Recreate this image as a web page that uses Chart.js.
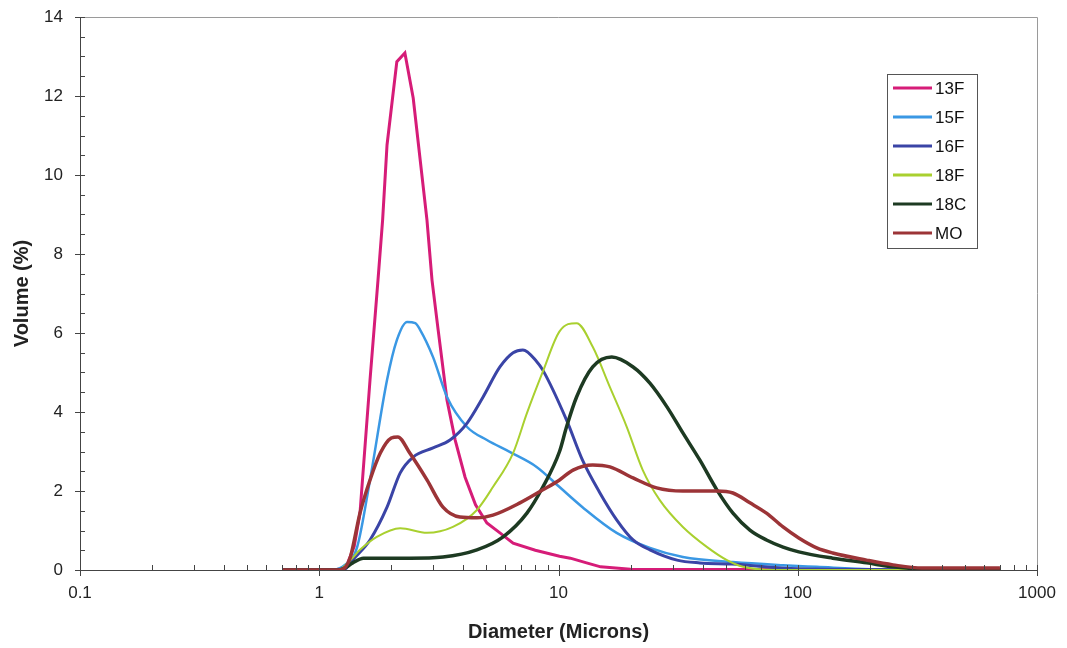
<!DOCTYPE html>
<html>
<head>
<meta charset="utf-8">
<script src="https://cdn.jsdelivr.net/npm/chart.js@4.4.1/dist/chart.umd.min.js"></script>
<style>
  html, body { margin: 0; padding: 0; background: #fff; }
  #wrap { width: 1067px; height: 648px; }
</style>
</head>
<body>
<div id="wrap"><canvas id="psd" width="1067" height="648"></canvas></div>
<script>
// Diamètres (µm) et volumes (%), une paire par série
const d13F = [0.7, 1.15, 1.29, 1.40, 1.48, 1.63, 1.76, 1.84, 1.92, 2.11, 2.28, 2.47, 2.82, 2.96, 3.14, 3.42, 3.7, 4.07, 4.5, 5.02, 5.69, 6.46, 8, 10.1, 11.2, 13.1, 15, 20, 700];
const v13F = [0, 0, 0.05, 0.6, 1.44, 4.81, 7.34, 8.86, 10.76, 12.87, 13.09, 11.95, 8.86, 7.34, 6.08, 4.3, 3.29, 2.35, 1.65, 1.19, 0.94, 0.68, 0.5, 0.35, 0.30, 0.18, 0.08, 0.02, 0];

const d15F = [0.7, 1.12, 1.28, 1.44, 1.63, 1.92, 2.11, 2.33, 2.52, 2.64, 2.99, 3.42, 4.15, 5.02, 6.25, 8.1, 10.1, 12.6, 17.5, 24.1, 33.1, 53.6, 86.8, 120, 200, 700];
const v15F = [0, 0, 0.13, 0.58, 2.28, 4.81, 5.82, 6.28, 6.25, 6.08, 5.39, 4.38, 3.62, 3.29, 2.99, 2.61, 2.10, 1.59, 0.94, 0.56, 0.33, 0.2, 0.12, 0.08, 0.02, 0];

const d16F = [0.7, 1.2, 1.3, 1.38, 1.63, 1.92, 2.18, 2.47, 2.99, 3.52, 4.15, 4.84, 5.69, 6.46, 7.1, 8.1, 8.6, 10.8, 12.6, 14.9, 17.5, 20.5, 24.1, 31.3, 39, 53, 100, 700];
const v16F = [0, 0, 0.05, 0.25, 0.76, 1.59, 2.46, 2.86, 3.09, 3.29, 3.72, 4.38, 5.14, 5.5, 5.57, 5.28, 5.06, 3.80, 2.78, 1.95, 1.27, 0.76, 0.51, 0.25, 0.18, 0.15, 0.03, 0];

const d18F = [0.7, 1.2, 1.35, 1.48, 1.74, 2.18, 2.82, 3.62, 4.56, 5.32, 6.46, 7.38, 8.6, 10.1, 11.9, 13.9, 16.4, 19.3, 22.5, 26.5, 33.1, 41.8, 50.6, 59, 80, 700];
const v18F = [0, 0, 0.25, 0.51, 0.84, 1.06, 0.94, 1.09, 1.52, 2.10, 2.96, 3.97, 5.02, 6.04, 6.25, 5.65, 4.63, 3.62, 2.53, 1.77, 1.09, 0.58, 0.25, 0.08, 0, 0];

const d18C = [0.7, 1.2, 1.28, 1.38, 1.53, 2.39, 3.29, 4.56, 5.87, 7.38, 8.6, 10.1, 10.8, 11.9, 13.9, 16.7, 20.5, 24.1, 28.4, 33.1, 39, 45.9, 53.6, 63.1, 74, 86.8, 101, 140, 194, 250, 350, 700];
const v18C = [0, 0, 0.05, 0.18, 0.30, 0.30, 0.33, 0.51, 0.84, 1.44, 2.10, 3.0, 3.62, 4.38, 5.14, 5.39, 5.14, 4.73, 4.13, 3.47, 2.78, 2.03, 1.44, 1.01, 0.76, 0.58, 0.46, 0.30, 0.18, 0.08, 0.02, 0];

const dMO = [0.7, 1.2, 1.29, 1.35, 1.48, 1.63, 1.80, 2.0, 2.13, 2.39, 2.82, 3.29, 3.87, 4.56, 5.32, 6.9, 8.6, 10.1, 11.5, 13.9, 16.4, 20.5, 25.7, 33.1, 45.9, 53.6, 63.1, 74, 86.8, 101, 120, 140, 194, 250, 330, 700];
const vMO = [0, 0, 0.08, 0.33, 1.44, 2.28, 2.96, 3.34, 3.37, 2.96, 2.28, 1.59, 1.34, 1.32, 1.39, 1.70, 2.03, 2.28, 2.53, 2.66, 2.61, 2.33, 2.08, 2.0, 2.0, 1.95, 1.70, 1.44, 1.09, 0.81, 0.56, 0.43, 0.25, 0.13, 0.05, 0.05];

const seriesNames = ['13F', '15F', '16F', '18F', '18C', 'MO'];
const xTickValues = [0.1, 1, 10, 100, 1000];
const yTickValues = [0, 2, 4, 6, 8, 10, 12, 14];

const FONT = '"Liberation Sans", Arial, sans-serif';

function pairs(xs, ys) {
    return xs.map((x, i) => ({ x: x, y: ys[i] }));
}

const seriesData = [pairs(d13F, v13F), pairs(d15F, v15F), pairs(d16F, v16F), pairs(d18F, v18F), pairs(d18C, v18C), pairs(dMO, vMO)];
const seriesColors = ['#d61c78', '#3a98e4', '#3a44a6', '#a9d02f', '#1d3a22', '#9c3437'];
const seriesWidths = [3, 2.5, 3, 2, 3.5, 3.5];

// Graduations mineures + cadre + légende
const decorPlugin = {
    id: 'decor',
    afterDatasetsDraw(chart) {
        const ctx = chart.ctx;
        const xs = chart.scales.x, ys = chart.scales.y;
        const a = chart.chartArea;
        ctx.save();
        // cadre haut / droite
        ctx.strokeStyle = '#9a9a9a';
        ctx.lineWidth = 1;
        ctx.beginPath();
        ctx.moveTo(a.left, a.top + 0.5);
        ctx.lineTo(a.right + 0.5, a.top + 0.5);
        ctx.lineTo(a.right + 0.5, a.bottom);
        ctx.stroke();

        ctx.strokeStyle = '#444';
        ctx.beginPath();
        // axe x : graduations log
        for (let e = -1; e < 3; e++) {
            for (let k = 1; k <= 9; k++) {
                const px = Math.round(xs.getPixelForValue(k * Math.pow(10, e))) + 0.5;
                if (k === 1) { ctx.moveTo(px, a.bottom - 5); ctx.lineTo(px, a.bottom + 6); }
                else { ctx.moveTo(px, a.bottom - 5); ctx.lineTo(px, a.bottom); }
            }
        }
        const pEnd = Math.round(xs.getPixelForValue(1000)) + 0.5;
        ctx.moveTo(pEnd, a.bottom - 5); ctx.lineTo(pEnd, a.bottom + 6);
        // axe y : pas de 0.5
        for (let v = 0; v <= 14; v += 0.5) {
            const py = Math.round(ys.getPixelForValue(v)) + 0.5;
            if (v % 2 === 0) { ctx.moveTo(a.left - 5, py); ctx.lineTo(a.left + 5, py); }
            else { ctx.moveTo(a.left, py); ctx.lineTo(a.left + 5, py); }
        }
        ctx.stroke();

        // légende
        const lx = 887, ly = 74, lw = 90, lh = 174;
        ctx.fillStyle = '#fff';
        ctx.fillRect(lx, ly, lw, lh);
        ctx.strokeStyle = '#555';
        ctx.strokeRect(lx + 0.5, ly + 0.5, lw, lh);
        ctx.font = '17px ' + FONT;
        ctx.textBaseline = 'middle';
        chart.data.datasets.forEach((ds, i) => {
            const cy = ly + 14 + i * 29;
            ctx.strokeStyle = ds.borderColor;
            ctx.lineWidth = 3;
            ctx.beginPath();
            ctx.moveTo(lx + 6, cy);
            ctx.lineTo(lx + 45, cy);
            ctx.stroke();
            ctx.fillStyle = '#111';
            ctx.fillText(ds.label, lx + 48, cy + 1);
        });
        ctx.restore();
    }
};

function createSizeChart() {
    const ctx = document.getElementById('psd').getContext('2d');
    new Chart(ctx, {
        type: 'line',
        data: {
            datasets: seriesNames.map((name, i) => ({
                label: name,
                data: seriesData[i],
                borderColor: seriesColors[i],
                backgroundColor: seriesColors[i],
                borderWidth: seriesWidths[i],
                pointRadius: 0,
                cubicInterpolationMode: i === 0 ? 'default' : 'monotone',
                tension: 0,
                fill: false,
                order: seriesNames.length - i
            }))
        },
        options: {
            responsive: false,
            animation: false,
            layout: { padding: { top: 17, right: 30, left: 0, bottom: 0 } },
            plugins: {
                legend: { display: false },
                tooltip: { enabled: false }
            },
            scales: {
                x: {
                    type: 'logarithmic',
                    min: 0.1,
                    max: 1000,
                    afterBuildTicks: (scale) => { scale.ticks = xTickValues.map(v => ({ value: v })); },
                    afterFit: (scale) => { scale.height = 78; scale.paddingLeft = 0; scale.paddingRight = 0; },
                    grid: { display: false, drawTicks: false },
                    border: { display: true, color: '#444', width: 1 },
                    ticks: {
                        padding: 13,
                        color: '#222',
                        font: { family: FONT, size: 17 },
                        maxRotation: 0,
                        autoSkip: false,
                        callback: (v) => String(v)
                    },
                    title: {
                        display: true,
                        text: 'Diameter (Microns)',
                        color: '#222',
                        font: { family: FONT, size: 20, weight: 'bold' },
                        padding: { top: 0, bottom: 4 }
                    }
                },
                y: {
                    min: 0,
                    max: 14,
                    afterBuildTicks: (scale) => { scale.ticks = yTickValues.map(v => ({ value: v })); },
                    afterFit: (scale) => { scale.width = 80; scale.paddingTop = 0; scale.paddingBottom = 0; },
                    grid: { display: false, drawTicks: false },
                    border: { display: true, color: '#444', width: 1 },
                    ticks: {
                        padding: 17,
                        color: '#222',
                        font: { family: FONT, size: 17 }
                    },
                    title: {
                        display: true,
                        text: 'Volume (%)',
                        color: '#222',
                        font: { family: FONT, size: 20, weight: 'bold' },
                        padding: { top: 10, bottom: 0 }
                    }
                }
            }
        },
        plugins: [decorPlugin]
    });
}

createSizeChart();
</script>
</body>
</html>
